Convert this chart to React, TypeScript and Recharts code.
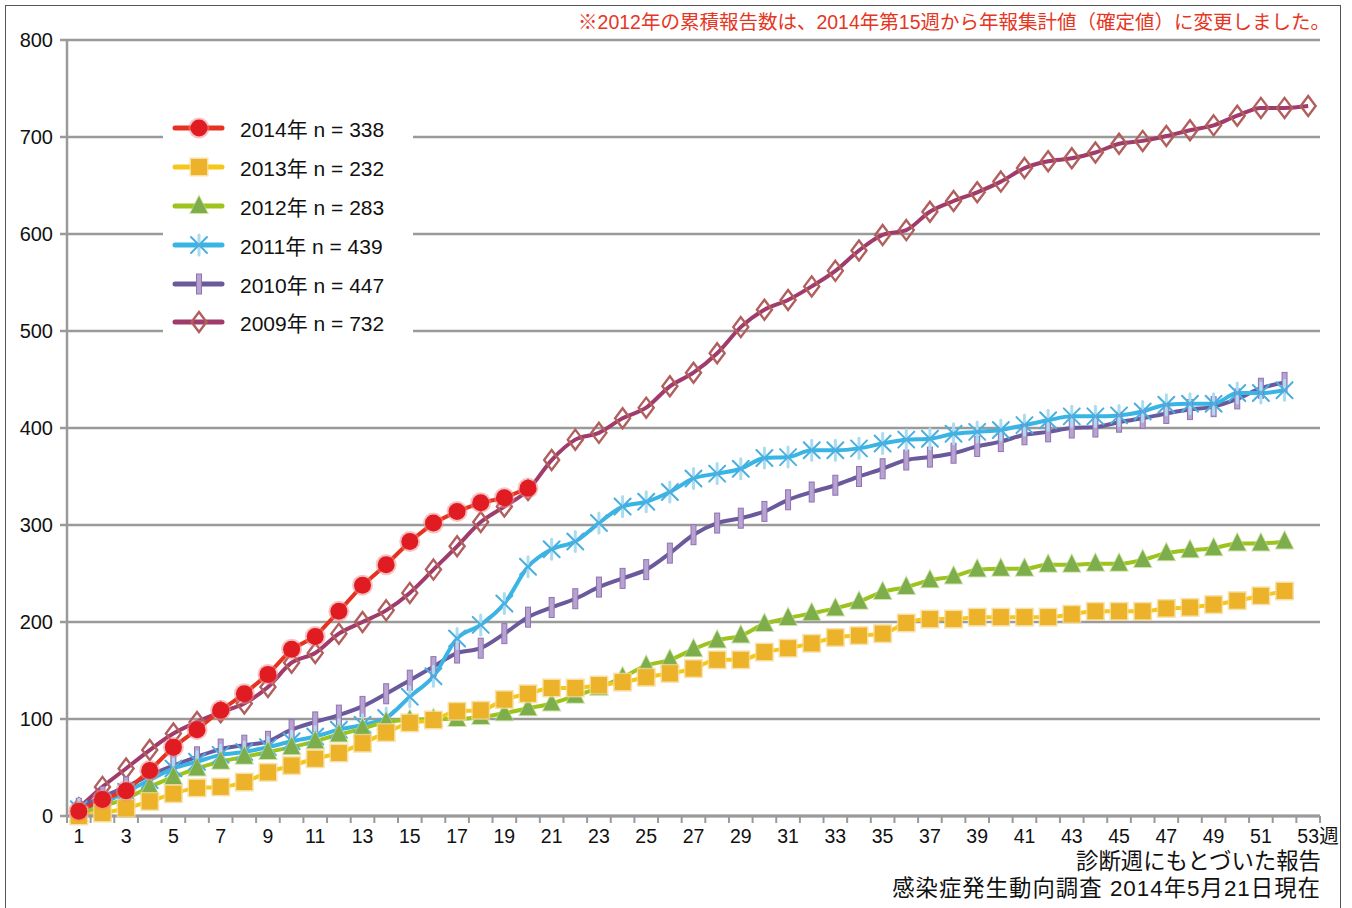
import { LineChart, Line, XAxis, YAxis, CartesianGrid, Legend } from "recharts";

const weeks = [
  1, 2, 3, 4, 5, 6, 7, 8, 9, 10, 11, 12, 13, 14, 15, 16, 17, 18, 19, 20, 21, 22, 23, 24, 25, 26, 27,
  28, 29, 30, 31, 32, 33, 34, 35, 36, 37, 38, 39, 40, 41, 42, 43, 44, 45, 46, 47, 48, 49, 50, 51, 52, 53,
];
const yTicks = [0, 100, 200, 300, 400, 500, 600, 700, 800];

const s2014 = [5, 17, 26, 47, 71, 89, 109, 126, 146, 172, 185, 211, 238, 259, 283, 302, 314, 323, 328, 338];
const s2013 = [
  0, 3, 8, 15, 23, 29, 30, 35, 45, 52, 59, 65, 75, 86, 96, 99, 108, 109, 120, 126, 132, 132, 135, 138, 143,
  147, 152, 161, 161, 169, 173, 178, 184, 186, 188, 199, 203, 203, 205, 205, 205, 205, 208, 211, 211, 211,
  214, 215, 218, 222, 227, 232,
];
const s2012 = [
  2, 10, 18, 30, 40, 49, 56, 61, 66, 71, 77, 84, 90, 97, 99, 100, 100, 102, 106, 111, 116, 124, 132, 143,
  155, 161, 172, 181, 186, 198, 204, 209, 214, 221, 231, 236, 243, 247, 254, 255, 255, 259, 259, 260, 260,
  264, 271, 274, 276, 281, 281, 283,
];
const s2011 = [
  7, 13, 25, 37, 49, 56, 63, 66, 71, 77, 82, 89, 94, 101, 123, 144, 183, 197, 219, 257, 275, 283, 302, 319,
  324, 334, 348, 353, 358, 369, 370, 377, 377, 379, 384, 388, 389, 394, 396, 398, 403, 408, 412, 412, 413,
  417, 424, 425, 425, 436, 436, 439,
];
const s2010 = [
  8, 20, 30, 42, 52, 61, 69, 73, 77, 89, 97, 104, 113, 126, 140, 154, 168, 173, 188, 205, 215, 224, 236,
  245, 254, 271, 290, 302, 307, 314, 326, 334, 341, 350, 358, 367, 370, 374, 381, 386, 393, 396, 400, 401,
  406, 410, 415, 419, 422, 430, 441, 447,
];
const s2009 = [
  8, 30, 49, 68, 85, 97, 107, 116, 133, 158, 168, 188, 200, 212, 230, 254, 278, 303, 319, 336, 367, 388,
  395, 410, 421, 443, 457, 477, 504, 522, 532, 546, 562, 583, 599, 604, 623, 634, 643, 654, 668, 675, 678,
  684, 693, 696, 701, 707, 712, 722, 730, 730, 732,
];

type MarkerKind = "circle" | "square" | "triangle" | "star" | "bar" | "diamond";

interface SeriesDef {
  key: string;
  label: string;
  values: number[];
  line: string;
  marker: MarkerKind;
  curve: "linear" | "monotone";
}

// legend order (top to bottom)
const SERIES: SeriesDef[] = [
  { key: "y2014", label: "2014年 n = 338", values: s2014, line: "#e6321f", marker: "circle", curve: "linear" },
  { key: "y2013", label: "2013年 n = 232", values: s2013, line: "#f6c619", marker: "square", curve: "monotone" },
  { key: "y2012", label: "2012年 n = 283", values: s2012, line: "#9cc41c", marker: "triangle", curve: "monotone" },
  { key: "y2011", label: "2011年 n = 439", values: s2011, line: "#38b5e5", marker: "star", curve: "monotone" },
  { key: "y2010", label: "2010年 n = 447", values: s2010, line: "#6a5a9c", marker: "bar", curve: "monotone" },
  { key: "y2009", label: "2009年 n = 732", values: s2009, line: "#a03b6b", marker: "diamond", curve: "monotone" },
];

const data = weeks.map((w, i) => {
  const row: Record<string, number | null> = { week: w };
  SERIES.forEach((s) => {
    row[s.key] = i < s.values.length ? s.values[i] : null;
  });
  return row;
});

// tick marks sit on the week boundaries, labels on the odd weeks
const xTicks = weeks.flatMap((w) => [w - 0.5, w]).concat([weeks[weeks.length - 1] + 0.5]);

const FONT = '"Liberation Sans", "Noto Sans CJK JP", sans-serif';
const GRID = "#9a9a9a";

function Marker({ kind, cx, cy }: { kind: MarkerKind; cx: number; cy: number }) {
  switch (kind) {
    case "circle":
      return (
        <g>
          <circle cx={cx} cy={cy} r={10.5} fill="#f08585" opacity={0.5} />
          <circle cx={cx} cy={cy} r={8.5} fill="#e01b22" />
        </g>
      );
    case "square":
      return (
        <g>
          <rect x={cx - 9.5} y={cy - 9.5} width={19} height={19} fill="#f6da94" opacity={0.8} />
          <rect x={cx - 8} y={cy - 8} width={16} height={16} fill="#ebb22a" />
        </g>
      );
    case "triangle":
      return (
        <g>
          <polygon
            points={`${cx},${cy - 12} ${cx + 10},${cy + 8} ${cx - 10},${cy + 8}`}
            fill="#bcd98a"
            opacity={0.7}
          />
          <polygon points={`${cx},${cy - 10} ${cx + 8.5},${cy + 7} ${cx - 8.5},${cy + 7}`} fill="#7dae4b" />
        </g>
      );
    case "star":
      return (
        <g strokeLinecap="round">
          <line x1={cx} y1={cy - 10} x2={cx} y2={cy + 10} stroke="#a9dcf3" strokeWidth={3} />
          <line x1={cx - 8} y1={cy - 8} x2={cx + 8} y2={cy + 8} stroke="#4aaede" strokeWidth={2} />
          <line x1={cx - 8} y1={cy + 8} x2={cx + 8} y2={cy - 8} stroke="#4aaede" strokeWidth={2} />
        </g>
      );
    case "bar":
      return (
        <rect x={cx - 2.5} y={cy - 10} width={5} height={20} fill="#b7a3d0" stroke="#9172b3" strokeWidth={1} />
      );
    case "diamond":
      return (
        <polygon
          points={`${cx},${cy - 10} ${cx + 7.5},${cy} ${cx},${cy + 10} ${cx - 7.5},${cy}`}
          fill="none"
          stroke="#b15e5e"
          strokeWidth={2.4}
        />
      );
  }
  return null;
}

function makeDot(kind: MarkerKind) {
  return (props: any) => {
    const { cx, cy, index, value } = props;
    if (cx == null || cy == null || value == null) return <g key={`e-${index}`} />;
    return (
      <g key={`m-${index}`}>
        <Marker kind={kind} cx={cx} cy={cy} />
      </g>
    );
  };
}

function WeekTick(props: any) {
  const { x, y, payload } = props;
  const v = payload.value as number;
  if (!Number.isInteger(v)) {
    return <line x1={x} x2={x} y1={y} y2={y + 7} stroke={GRID} strokeWidth={2} />;
  }
  if (v % 2 === 0) return <g />;
  const last = v === weeks[weeks.length - 1];
  return (
    <g>
      <text x={x} y={y + 27} textAnchor="middle" fontSize={19.5} fill="#111" fontFamily={FONT}>
        {v}
      </text>
      {last && (
        <text x={x + 11} y={y + 27} textAnchor="start" fontSize={19.5} fill="#111" fontFamily={FONT}>
          週
        </text>
      )}
    </g>
  );
}

function LegendBox() {
  return (
    <div style={{ background: "#fff", width: 250, paddingTop: 1, paddingBottom: 4 }}>
      {SERIES.map((s) => (
        <div key={s.key} style={{ display: "flex", alignItems: "center", height: 38.8 }}>
          <svg width={70} height={26} style={{ flex: "none" }}>
            <line x1={12} x2={59} y1={13} y2={13} stroke={s.line} strokeWidth={5} strokeLinecap="round" />
            <Marker kind={s.marker} cx={36} cy={13} />
          </svg>
          <span style={{ fontFamily: FONT, fontSize: 21, color: "#111", marginLeft: 7, whiteSpace: "nowrap" }}>
            {s.label}
          </span>
        </div>
      ))}
    </div>
  );
}

export default function App() {
  const drawOrder = [...SERIES].reverse();
  return (
    <div
      style={{
        position: "absolute",
        left: 0,
        top: 0,
        width: 1352,
        height: 908,
        background: "#fff",
        overflow: "hidden",
        fontFamily: FONT,
      }}
    >
      <div
        style={{
          position: "absolute",
          left: 5,
          top: 5,
          width: 1336,
          height: 940,
          border: "1.5px solid #555",
          boxSizing: "border-box",
        }}
      />
      <LineChart width={1352} height={908} data={data} margin={{ top: 40, right: 32, bottom: 62, left: 7 }}>
        <CartesianGrid vertical={false} stroke={GRID} strokeWidth={2.5} />
        <XAxis
          dataKey="week"
          type="number"
          domain={[0.5, 53.5]}
          ticks={xTicks}
          interval={0}
          tick={<WeekTick />}
          tickLine={false}
          tickSize={0}
          tickMargin={0}
          height={30}
          axisLine={{ stroke: GRID, strokeWidth: 3 }}
          allowDataOverflow
        />
        <YAxis
          domain={[0, 800]}
          ticks={yTicks}
          width={60}
          tickSize={7}
          tickMargin={7}
          tick={{ fontSize: 20, fill: "#111", fontFamily: FONT }}
          tickLine={{ stroke: GRID, strokeWidth: 2.5 }}
          axisLine={{ stroke: GRID, strokeWidth: 2.5 }}
          interval={0}
        />
        {drawOrder.map((s) => (
          <Line
            key={s.key}
            dataKey={s.key}
            name={s.label}
            type={s.curve}
            stroke={s.line}
            strokeWidth={4}
            dot={makeDot(s.marker)}
            activeDot={false}
            isAnimationActive={false}
            connectNulls={false}
          />
        ))}
        <Legend
          layout="horizontal"
          verticalAlign="middle"
          align="center"
          content={() => <LegendBox />}
          wrapperStyle={{ left: 163, top: 108, width: 250 }}
        />
      </LineChart>
      <div
        style={{
          position: "absolute",
          right: 22,
          top: 9,
          color: "#e5361f",
          fontSize: 19.5,
          lineHeight: "26px",
          whiteSpace: "nowrap",
        }}
      >
        ※2012年の累積報告数は、2014年第15週から年報集計値（確定値）に変更しました。
      </div>
      <div
        style={{
          position: "absolute",
          right: 31,
          top: 848,
          color: "#111",
          fontSize: 22.4,
          lineHeight: "27px",
          textAlign: "right",
          whiteSpace: "nowrap",
        }}
      >
        <div>診断週にもとづいた報告</div>
        <div style={{ letterSpacing: 1 }}>感染症発生動向調査 2014年5月21日現在</div>
      </div>
    </div>
  );
}
